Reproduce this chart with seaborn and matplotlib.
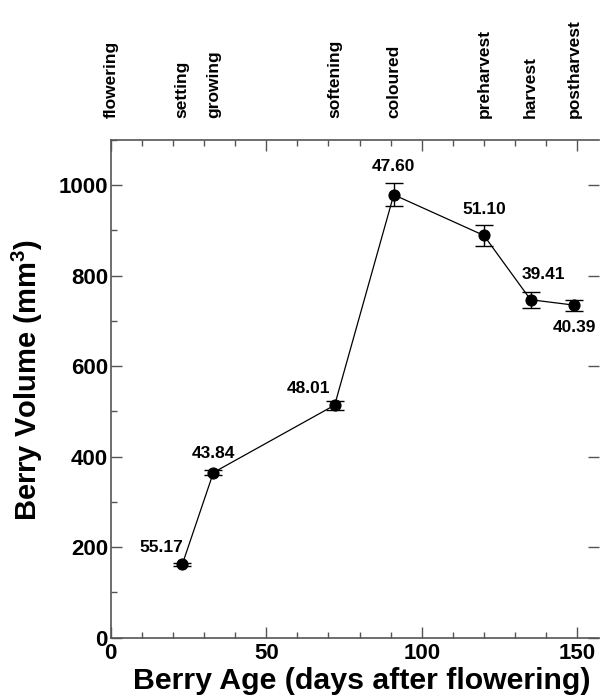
import matplotlib
matplotlib.use("Agg")
import matplotlib.pyplot as plt
import matplotlib.transforms as mtransforms
import seaborn as sns
import pandas as pd
import numpy as np
from matplotlib.ticker import MultipleLocator

# ---- data ----
days = [23, 33, 72, 91, 120, 135, 149]
volume = [162, 365, 514, 979, 889, 747, 735]
volume_err = [4, 6, 10, 25, 23, 18, 12]
point_labels = ["55.17", "43.84", "48.01", "47.60", "51.10", "39.41", "40.39"]
stage_days = [0, 23, 33, 72, 91, 120, 135, 149]
stage_names = ["flowering", "setting", "growing", "softening", "coloured",
               "preharvest", "harvest", "postharvest"]

df = pd.DataFrame({"days": days, "volume": volume})

sns.set_theme(style="ticks")
plt.rcParams["font.family"] = ["Liberation Sans", "DejaVu Sans"]
plt.rcParams["font.weight"] = "bold"
plt.rcParams["text.color"] = "black"
plt.rcParams["axes.labelcolor"] = "black"
plt.rcParams["xtick.labelcolor"] = "black"
plt.rcParams["ytick.labelcolor"] = "black"
plt.rcParams["mathtext.fontset"] = "custom"
plt.rcParams["mathtext.bf"] = "Liberation Sans:bold"

fig = plt.figure(figsize=(6.02, 7.0), dpi=100)
ax = fig.add_axes([0.184, 0.089, 0.811, 0.711])

axis_col = "#555555"

sns.lineplot(data=df, x="days", y="volume", ax=ax, color="black",
             linewidth=0.9, marker="o", markersize=8, markeredgecolor="black",
             markerfacecolor="black", zorder=3)
ax.errorbar(days, volume, yerr=volume_err, fmt="none", ecolor="black",
            elinewidth=1.0, capsize=6.5, capthick=1.0, zorder=2)

# value labels (offsets in points)
offsets = [(-15, 12), (0, 14), (-19, 12), (0, 20), (0, 19), (9, 18), (0, -16)]
for x, y, lab, (dx, dy) in zip(days, volume, point_labels, offsets):
    ax.annotate(lab, (x, y), xytext=(dx, dy), textcoords="offset points",
                ha="center", va="center", fontsize=12.5, fontweight="bold")

ax.set_xlim(0, 157)
ax.set_ylim(0, 1100)
ax.xaxis.set_major_locator(MultipleLocator(50))
ax.xaxis.set_minor_locator(MultipleLocator(10))
ax.yaxis.set_major_locator(MultipleLocator(200))
ax.yaxis.set_minor_locator(MultipleLocator(100))

for s in ["left", "bottom", "top"]:
    ax.spines[s].set_color(axis_col)
    ax.spines[s].set_linewidth(1.2)
ax.spines["right"].set_visible(False)

ax.tick_params(axis="both", which="major", direction="in", length=8,
               width=1.0, color=axis_col, labelsize=16, pad=2)
ax.tick_params(axis="x", which="major", pad=4)
ax.tick_params(axis="both", which="minor", direction="in", length=4,
               width=1.0, color=axis_col)
ax.tick_params(axis="x", which="both", top=True)
ax.tick_params(axis="y", which="major", right=True)
ax.tick_params(axis="y", which="minor", right=False)
for lab in ax.get_xticklabels() + ax.get_yticklabels():
    lab.set_fontweight("bold")

ax.set_xlabel("Berry Age (days after flowering)", fontsize=21.8,
              fontweight="bold", labelpad=2)
ax.set_ylabel(r"Berry Volume (mm$\mathbf{^3}$)", fontsize=21,
              fontweight="bold", labelpad=10)
ax.xaxis.label.set_x(0.515)
ax.yaxis.label.set_y(0.518)

# stage labels along the top
trans = mtransforms.blended_transform_factory(ax.transData, ax.transAxes)
trans = trans + mtransforms.ScaledTranslation(0, 22 / 100, fig.dpi_scale_trans)
for d, name in zip(stage_days, stage_names):
    ax.text(d, 1.0, name, transform=trans, rotation=90, ha="center",
            va="bottom", fontsize=12.5, fontweight="bold", color="black")

fig.savefig("out.png", dpi=100)
